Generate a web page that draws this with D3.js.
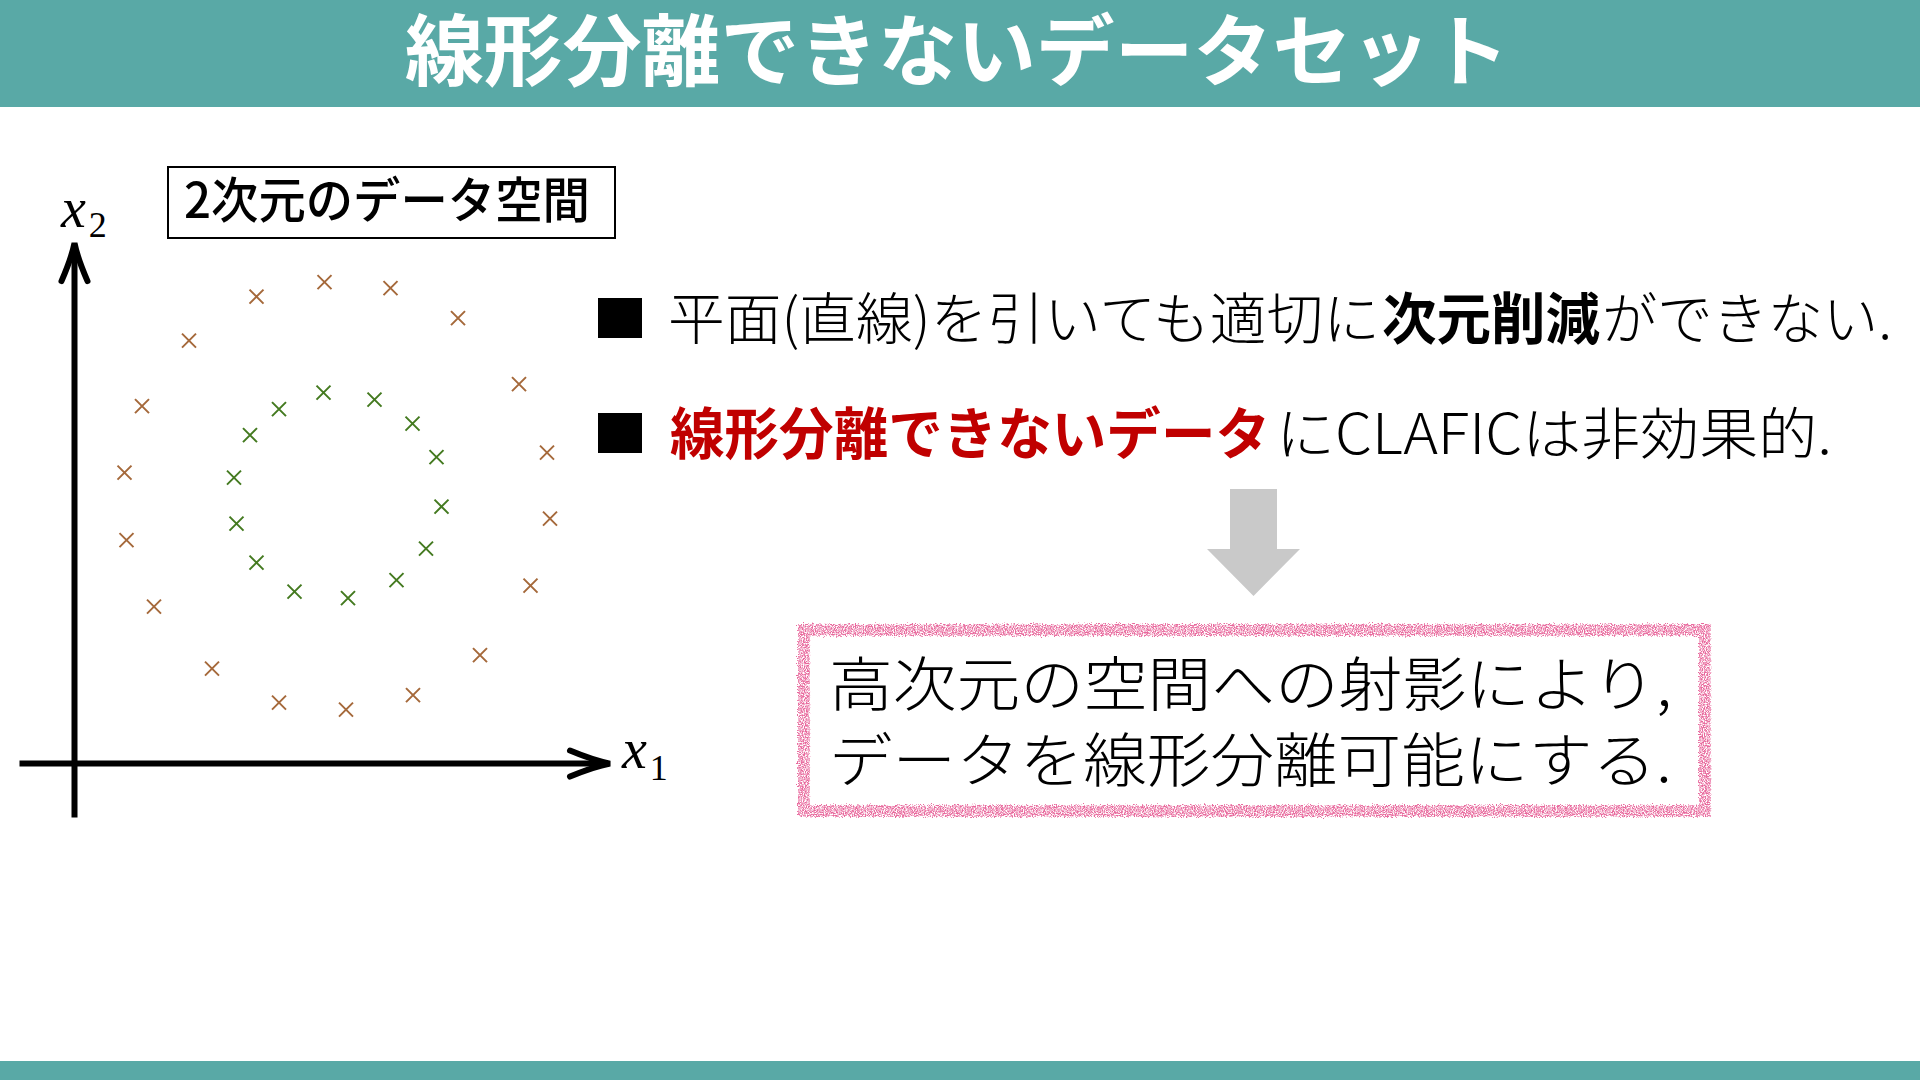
<!DOCTYPE html>
<html>
<head>
<meta charset="utf-8">
<script src="https://cdn.jsdelivr.net/npm/d3@7"></script>
<style>
    body { margin: 0; background: #fff; }
    svg { display: block; }
    text { font-family: 'Noto Sans CJK JP', 'Noto Sans', sans-serif; }
    text.math { font-family: 'Liberation Serif', 'DejaVu Serif', serif; }
</style>
</head>
<body>
<div id="slide"></div>
<script>
// outer ring (class A) in data units
const outerX = [3.64, 5.0, 6.32, 7.67, 2.29, 8.89, 1.35, 9.45, 1.0, 9.51, 1.04, 9.12, 1.59, 8.11, 2.75, 6.77, 4.09, 5.43];
const outerY = [9.34, 9.63, 9.51, 8.91, 8.46, 7.59, 7.15, 6.22, 5.82, 4.9, 4.47, 3.56, 3.14, 2.17, 1.9, 1.37, 1.22, 1.08];
// inner ring (class B)
const innerX = [4.98, 6.0, 4.09, 6.76, 3.51, 7.24, 3.19, 7.34, 3.24, 7.03, 3.64, 6.44, 4.4, 5.47];
const innerY = [7.42, 7.28, 7.09, 6.8, 6.57, 6.13, 5.72, 5.14, 4.8, 4.3, 4.02, 3.67, 3.44, 3.31];

const title = '線形分離できないデータセット';
const plotLabel = '2次元のデータ空間';
const bullet1 = [
    { text: '平面(直線)を引いても適切に', x: 668, w: 712, bold: false, color: '#000' },
    { text: '次元削減', x: 1382, w: 218, bold: true, color: '#000' },
    { text: 'ができない.', x: 1602, w: 290, bold: false, color: '#000' },
];
const bullet2 = [
    { text: '線形分離できないデータ', x: 670, w: 600, bold: true, color: '#c00000' },
    { text: 'にCLAFICは非効果的.', x: 1276, w: 556, bold: false, color: '#000' },
];
const boxLines = ['高次元の空間への射影により,', 'データを線形分離可能にする.'];

const width = 1920;
const height = 1080;
const teal = '#59a9a6';

const svg = d3.select('#slide').append('svg').attr('width', width).attr('height', height);

const defs = svg.append('defs');
const crayon = defs.append('filter').attr('id', 'crayon').attr('x', '-5%').attr('y', '-10%').attr('width', '110%').attr('height', '120%');
crayon.append('feTurbulence').attr('type', 'fractalNoise').attr('baseFrequency', 0.9).attr('numOctaves', 2).attr('seed', 3).attr('result', 'noise');
crayon
    .append('feDisplacementMap')
    .attr('in', 'SourceGraphic')
    .attr('in2', 'noise')
    .attr('scale', 6)
    .attr('xChannelSelector', 'R')
    .attr('yChannelSelector', 'G')
    .attr('result', 'rough');
crayon
    .append('feColorMatrix')
    .attr('in', 'noise')
    .attr('type', 'matrix')
    .attr('values', '0 0 0 0 0  0 0 0 0 0  0 0 0 0 0  3 0 0 0 -0.95')
    .attr('result', 'grain');
crayon.append('feComposite').attr('in', 'rough').attr('in2', 'grain').attr('operator', 'in');

svg.append('rect').attr('width', width).attr('height', height).attr('fill', '#fff');

// header & footer bands
svg.append('rect').attr('x', 0).attr('y', 0).attr('width', width).attr('height', 107).attr('fill', teal);
svg.append('rect').attr('x', 0).attr('y', 1061).attr('width', width).attr('height', 19).attr('fill', teal);

svg.append('text')
    .attr('x', 405)
    .attr('y', 80)
    .attr('font-size', 78)
    .attr('font-weight', 'bold')
    .attr('fill', '#fff')
    .attr('textLength', 1104)
    .attr('lengthAdjust', 'spacingAndGlyphs')
    .text(title);

// scatter plot
const xScale = d3.scaleLinear().domain([0, 10]).range([74.5, 574.5]);
const yScale = d3.scaleLinear().domain([0, 10]).range([763.6, 263.6]);

const plot = svg.append('g').attr('class', 'scatter');

plot.append('line')
    .attr('x1', xScale(-1.1))
    .attr('x2', xScale(10.65))
    .attr('y1', yScale(0))
    .attr('y2', yScale(0))
    .attr('stroke', '#000')
    .attr('stroke-width', 6);
plot.append('line')
    .attr('x1', xScale(0))
    .attr('x2', xScale(0))
    .attr('y1', yScale(-1.08))
    .attr('y2', yScale(10.35))
    .attr('stroke', '#000')
    .attr('stroke-width', 6);

// arrow heads
const xTip = [xScale(10.71), yScale(0)];
plot.append('path')
    .attr('d', `M${xTip[0] - 40},${xTip[1] - 13} Q${xTip[0] - 16},${xTip[1] - 3} ${xTip[0]},${xTip[1]} Q${xTip[0] - 16},${xTip[1] + 3} ${xTip[0] - 40},${xTip[1] + 13}`)
    .attr('fill', 'none')
    .attr('stroke', '#000')
    .attr('stroke-width', 6)
    .attr('stroke-linecap', 'round');
const yTip = [xScale(0), yScale(10.41)];
plot.append('path')
    .attr('d', `M${yTip[0] - 13},${yTip[1] + 38} Q${yTip[0] - 3},${yTip[1] + 15} ${yTip[0]},${yTip[1]} Q${yTip[0] + 3},${yTip[1] + 15} ${yTip[0] + 13},${yTip[1] + 38}`)
    .attr('fill', 'none')
    .attr('stroke', '#000')
    .attr('stroke-width', 6)
    .attr('stroke-linecap', 'round');

// axis labels
const x1Label = plot.append('text').attr('class', 'math').attr('x', 622).attr('y', 768).attr('font-size', 56);
x1Label.append('tspan').attr('font-style', 'italic').text('x');
x1Label.append('tspan').attr('font-size', 36).attr('dx', 3).attr('dy', 12).text('1');
const x2Label = plot.append('text').attr('class', 'math').attr('x', 61).attr('y', 227).attr('font-size', 56);
x2Label.append('tspan').attr('font-style', 'italic').text('x');
x2Label.append('tspan').attr('font-size', 36).attr('dx', 3).attr('dy', 10).text('2');

const cross = (s) => `M${-s},${-s}L${s},${s}M${-s},${s}L${s},${-s}`;

const outer = outerX.map((x, i) => ({ x, y: outerY[i] }));
const inner = innerX.map((x, i) => ({ x, y: innerY[i] }));

plot.append('g')
    .selectAll('path')
    .data(outer)
    .enter()
    .append('path')
    .attr('d', cross(7))
    .attr('transform', (d) => `translate(${xScale(d.x)}, ${yScale(d.y)})`)
    .attr('stroke', '#a5693b')
    .attr('stroke-width', 2)
    .attr('fill', 'none');

plot.append('g')
    .selectAll('path')
    .data(inner)
    .enter()
    .append('path')
    .attr('d', cross(7))
    .attr('transform', (d) => `translate(${xScale(d.x)}, ${yScale(d.y)})`)
    .attr('stroke', '#447a20')
    .attr('stroke-width', 2)
    .attr('fill', 'none');

// plot caption box
svg.append('rect')
    .attr('x', 168)
    .attr('y', 167)
    .attr('width', 447)
    .attr('height', 71)
    .attr('fill', '#fff')
    .attr('stroke', '#000')
    .attr('stroke-width', 2);
svg.append('text')
    .attr('x', 184)
    .attr('y', 218)
    .attr('font-size', 49)
    .attr('font-weight', 500)
    .attr('textLength', 406)
    .attr('lengthAdjust', 'spacingAndGlyphs')
    .text(plotLabel);

// bullets
function drawBullet(segments, squareY, baseline) {
    svg.append('rect').attr('x', 598).attr('y', squareY).attr('width', 44).attr('height', 40).attr('fill', '#000');
    segments.forEach((s) => {
        svg.append('text')
            .attr('x', s.x)
            .attr('y', baseline)
            .attr('font-size', 56)
            .attr('font-weight', s.bold ? 'bold' : 300)
            .attr('fill', s.color)
            .attr('textLength', s.w)
            .attr('lengthAdjust', 'spacingAndGlyphs')
            .text(s.text);
    });
}
drawBullet(bullet1, 298, 339);
drawBullet(bullet2, 413, 454);

// gray down arrow
svg.append('path')
    .attr('d', 'M1230,489 H1277 V549 H1300 L1253.5,596 L1207,549 H1230 Z')
    .attr('fill', '#c9c9c9');

// crayon box
svg.append('rect')
    .attr('x', 804)
    .attr('y', 630)
    .attr('width', 901)
    .attr('height', 181)
    .attr('fill', 'none')
    .attr('stroke', '#e8689c')
    .attr('stroke-width', 12)
    .attr('filter', 'url(#crayon)');

boxLines.forEach((line, i) => {
    svg.append('text')
        .attr('x', 829)
        .attr('y', 706 + i * 76)
        .attr('font-size', 59)
        .attr('font-weight', 300)
        .attr('textLength', 843)
        .attr('lengthAdjust', 'spacingAndGlyphs')
        .text(line);
});
</script>
</body>
</html>
